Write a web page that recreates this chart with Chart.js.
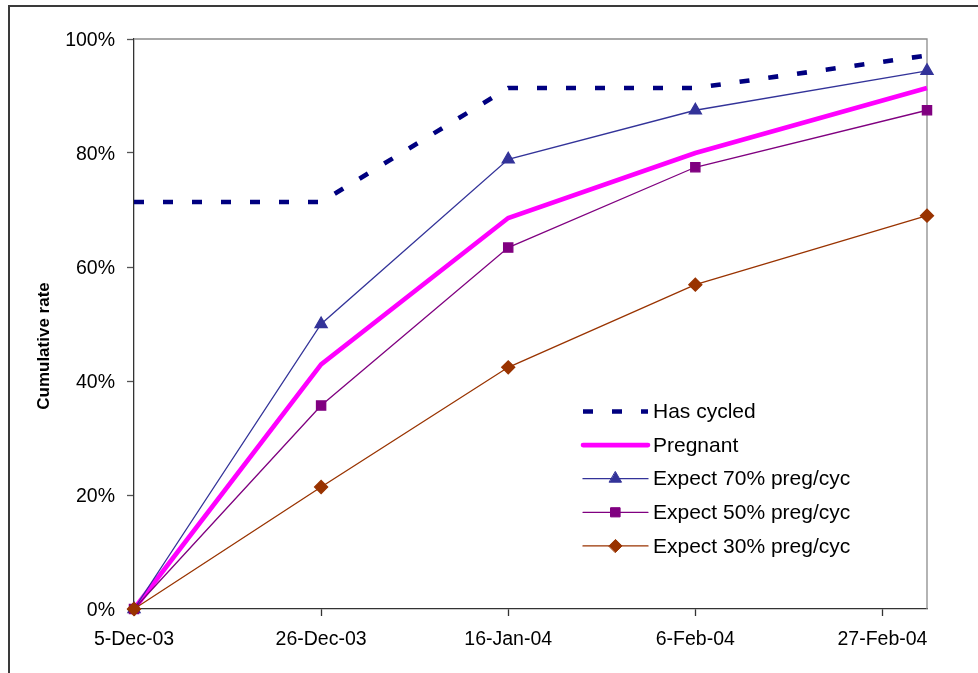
<!DOCTYPE html>
<html>
<head>
<meta charset="utf-8">
<script src="https://cdn.jsdelivr.net/npm/chart.js@4.4.1/dist/chart.umd.min.js"></script>
<style>
    html, body { margin: 0; padding: 0; background: #fff; }
    #wrap { width: 978px; height: 673px; position: relative; }
</style>
</head>
<body>
<div id="wrap"><canvas id="rateChart"></canvas></div>
<script>
// Observation dates and the last reading
const obsDates = ['2003-12-05', '2003-12-26', '2004-01-16', '2004-02-06', '2004-03-03'];
// Axis tick dates and their labels
const tickDates = ['2003-12-05', '2003-12-26', '2004-01-16', '2004-02-06', '2004-02-27'];
const tickLabels = ['5-Dec-03', '26-Dec-03', '16-Jan-04', '6-Feb-04', '27-Feb-04'];

// Cumulative rates, %
const hasCycled = [71.4, 71.4, 91.4, 91.4, 97.1];
const pregnant = [0, 42.9, 68.6, 80.0, 91.4];
const expect70 = [0, 50.0, 78.9, 87.5, 94.4];
const expect50 = [0, 35.7, 63.4, 77.5, 87.5];
const expect30 = [0, 21.4, 42.4, 56.9, 69.0];

const seriesNames = ['Has cycled', 'Pregnant', 'Expect 70% preg/cyc', 'Expect 50% preg/cyc', 'Expect 30% preg/cyc'];
const yTitle = 'Cumulative rate';

const FONT = "'Liberation Sans', Arial, sans-serif";
const DAY = 24 * 3600 * 1000;
const start = Date.parse(obsDates[0]);
const toDay = (d) => Math.round((Date.parse(d) - start) / DAY);

const obsDays = obsDates.map(toDay);
const tickDays = tickDates.map(toDay);

const toPoints = (values) => values.map((v, i) => ({x: obsDays[i], y: v}));

// White page with the outer frame on the left and top
const framePlugin = {
    id: 'frame',
    beforeDraw(chart) {
        const ctx = chart.ctx;
        ctx.save();
        ctx.fillStyle = '#fff';
        ctx.fillRect(0, 0, chart.width, chart.height);
        ctx.strokeStyle = '#3a3a3a';
        ctx.lineWidth = 2;
        ctx.beginPath();
        ctx.moveTo(9, chart.height);
        ctx.lineTo(9, 6);
        ctx.lineTo(chart.width, 6);
        ctx.stroke();

        // y axis title, sits a little below the middle of the axis
        ctx.translate(44, 346);
        ctx.rotate(-Math.PI / 2);
        ctx.fillStyle = '#000';
        ctx.font = 'bold 17px ' + FONT;
        ctx.textAlign = 'center';
        ctx.textBaseline = 'middle';
        ctx.fillText(yTitle, 0, 0);
        ctx.restore();
    },
    beforeDatasetsDraw(chart) {
        // grey top and right edges of the plot area
        const {left, top, right, bottom} = chart.chartArea;
        const ctx = chart.ctx;
        ctx.save();
        ctx.strokeStyle = '#8c8c8c';
        ctx.lineWidth = 1.3;
        ctx.beginPath();
        ctx.moveTo(left, top);
        ctx.lineTo(right, top);
        ctx.lineTo(right, bottom);
        ctx.stroke();
        ctx.restore();
    }
};

// Legend drawn inside the plot, one row per series
const legendPlugin = {
    id: 'insideLegend',
    afterDatasetsDraw(chart) {
        const ctx = chart.ctx;
        const x0 = 583, x1 = 648, textX = 653;
        const y0 = 411.5, rowGap = 33.6;
        ctx.save();
        chart.data.datasets.forEach((ds, i) => {
            const y = y0 + i * rowGap;
            ctx.strokeStyle = ds.borderColor;
            ctx.lineWidth = ds.borderWidth;
            ctx.lineCap = ds.borderDash ? 'butt' : 'round';
            ctx.setLineDash(ds.borderDash || []);
            ctx.beginPath();
            ctx.moveTo(x0, y);
            ctx.lineTo(x1, y);
            ctx.stroke();
            ctx.setLineDash([]);
            if (ds.pointRadius > 0) {
                ctx.fillStyle = ds.pointBackgroundColor;
                ctx.strokeStyle = ds.pointBorderColor;
                ctx.lineWidth = 1;
                Chart.helpers.drawPoint(ctx, {
                    pointStyle: ds.pointStyle,
                    radius: ds.pointRadius,
                    rotation: 0,
                    borderWidth: 1
                }, (x0 + x1) / 2, y);
            }
            ctx.fillStyle = '#000';
            ctx.font = '21px ' + FONT;
            ctx.textBaseline = 'middle';
            ctx.textAlign = 'left';
            ctx.fillText(ds.label, textX, y + 1);
        });
        ctx.restore();
    }
};

const ctx = document.getElementById('rateChart').getContext('2d');

new Chart(ctx, {
    type: 'line',
    data: {
        datasets: [
            {
                label: seriesNames[0],
                data: toPoints(hasCycled),
                borderColor: '#000080',
                borderWidth: 4.6,
                borderDash: [10, 19],
                pointRadius: 0,
                order: 5
            },
            {
                label: seriesNames[1],
                data: toPoints(pregnant),
                borderColor: '#ff00ff',
                borderWidth: 4.6,
                pointRadius: 0,
                order: 4
            },
            {
                label: seriesNames[2],
                data: toPoints(expect70),
                borderColor: '#333399',
                borderWidth: 1.3,
                pointStyle: 'triangle',
                pointRadius: 7,
                pointBackgroundColor: '#333399',
                pointBorderColor: '#333399',
                order: 3
            },
            {
                label: seriesNames[3],
                data: toPoints(expect50),
                borderColor: '#800080',
                borderWidth: 1.3,
                pointStyle: 'rect',
                pointRadius: 6.5,
                pointBackgroundColor: '#800080',
                pointBorderColor: '#800080',
                order: 2
            },
            {
                label: seriesNames[4],
                data: toPoints(expect30),
                borderColor: '#993300',
                borderWidth: 1.3,
                pointStyle: 'rectRot',
                pointRadius: 6.5,
                pointBackgroundColor: '#993300',
                pointBorderColor: '#993300',
                order: 1
            }
        ]
    },
    options: {
        responsive: true,
        maintainAspectRatio: false,
        animation: false,
        layout: {padding: {left: 0, top: 39, right: 51, bottom: 0}},
        plugins: {
            legend: {display: false},
            tooltip: {enabled: false}
        },
        datasets: {line: {clip: false}},
        elements: {line: {tension: 0, capBezierPoints: false}},
        scales: {
            x: {
                type: 'linear',
                min: obsDays[0],
                max: obsDays[obsDays.length - 1],
                afterBuildTicks: (scale) => {
                    scale.ticks = tickDays.map(v => ({value: v}));
                },
                afterFit: (scale) => {
                    scale.height = 64;
                },
                border: {color: '#333', width: 1.3},
                grid: {drawOnChartArea: false, tickLength: 7, color: '#333', tickWidth: 1.3},
                ticks: {
                    autoSkip: false,
                    maxRotation: 0,
                    padding: 12,
                    color: '#000',
                    font: {family: FONT, size: 19.5},
                    callback: (value) => {
                        const idx = tickDays.indexOf(value);
                        return idx >= 0 ? tickLabels[idx] : '';
                    }
                }
            },
            y: {
                min: 0,
                max: 100,
                afterFit: (scale) => {
                    scale.width = 134;
                },
                border: {color: '#333', width: 1.3},
                grid: {drawOnChartArea: false, tickLength: 7, color: '#555', tickWidth: 1.3},
                ticks: {
                    stepSize: 20,
                    padding: 12,
                    labelOffset: 2,
                    color: '#000',
                    font: {family: FONT, size: 19.5},
                    callback: (value) => value + '%'
                }
            }
        }
    },
    plugins: [framePlugin, legendPlugin]
});
</script>
</body>
</html>
